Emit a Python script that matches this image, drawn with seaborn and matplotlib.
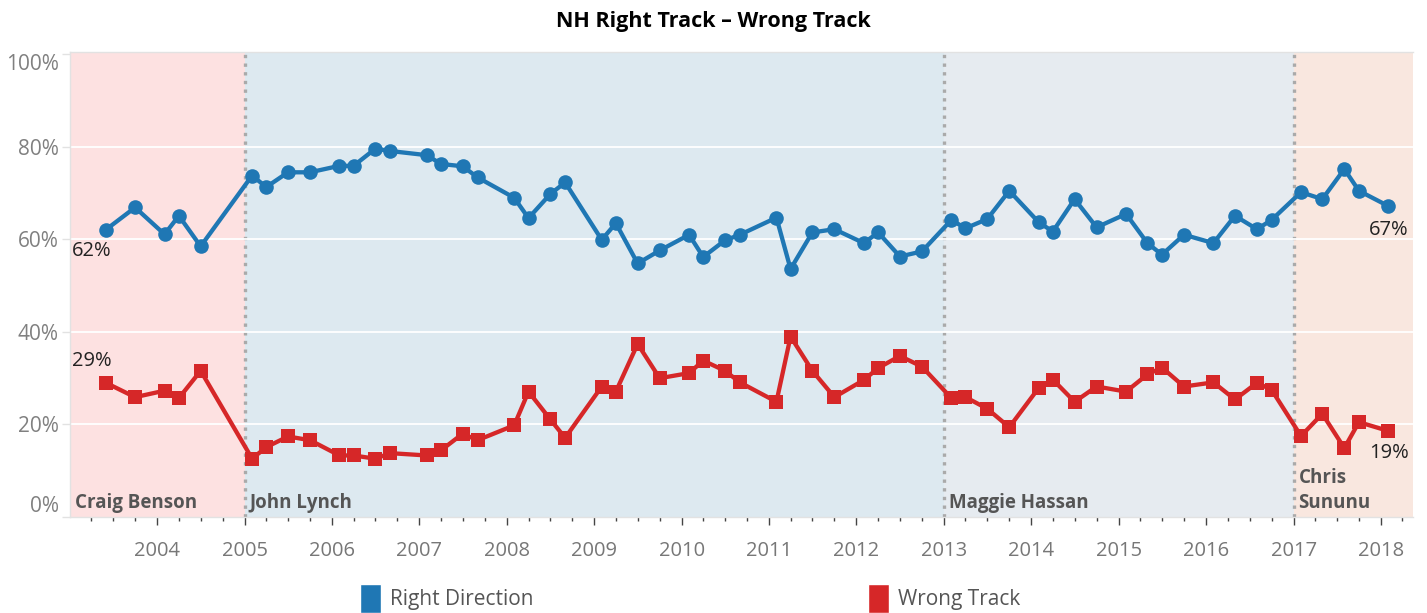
import pandas as pd
import numpy as np
import matplotlib
matplotlib.use('Agg')
import matplotlib.pyplot as plt
import matplotlib.dates as mdates
from matplotlib.patches import Patch
import seaborn as sns

# survey months
poll_dates = [
    '2003-06', '2003-10', '2004-02', '2004-04', '2004-07',
    '2005-02', '2005-04', '2005-07', '2005-10',
    '2006-02', '2006-04', '2006-07', '2006-09',
    '2007-02', '2007-04', '2007-07', '2007-09',
    '2008-02', '2008-04', '2008-07', '2008-09',
    '2009-02', '2009-04', '2009-07', '2009-10',
    '2010-02', '2010-04', '2010-07', '2010-09',
    '2011-02', '2011-04', '2011-07', '2011-10',
    '2012-02', '2012-04', '2012-07', '2012-10',
    '2013-02', '2013-04', '2013-07', '2013-10',
    '2014-02', '2014-04', '2014-07', '2014-10',
    '2015-02', '2015-05', '2015-07', '2015-10',
    '2016-02', '2016-05', '2016-08', '2016-10',
    '2017-02', '2017-05', '2017-08', '2017-10',
    '2018-02',
]

right_direction = [
    62.1, 66.9, 61.1, 65.1, 58.5,
    73.8, 71.3, 74.5, 74.5,
    75.9, 75.9, 79.6, 79.1,
    78.2, 76.3, 75.8, 73.4,
    69.0, 64.6, 69.8, 72.3,
    59.9, 63.5, 54.8, 57.6,
    61.0, 56.2, 59.8, 61.0,
    64.7, 53.6, 61.5, 62.2,
    59.2, 61.5, 56.3, 57.4,
    64.2, 62.4, 64.4, 70.5,
    63.7, 61.7, 68.7, 62.6,
    65.5, 59.2, 56.7, 61.0,
    59.2, 65.1, 62.2, 64.2,
    70.2, 68.7, 75.2, 70.5,
    67.2,
]

wrong_track = [
    29.0, 25.9, 27.3, 25.7, 31.6,
    12.6, 15.1, 17.4, 16.6,
    13.3, 13.3, 12.6, 13.8,
    13.3, 14.4, 18.0, 16.6,
    19.8, 27.1, 21.1, 17.1,
    28.2, 27.1, 37.4, 30.0,
    31.1, 33.8, 31.6, 29.1,
    24.9, 39.0, 31.6, 25.9,
    29.6, 32.2, 34.8, 32.5,
    25.7, 25.9, 23.4, 19.4,
    27.9, 29.7, 24.9, 28.2,
    27.1, 30.8, 32.3, 28.2,
    29.1, 25.4, 29.0, 27.5,
    17.5, 22.3, 14.9, 20.5,
    18.6,
]

governors = ['Craig Benson', 'John Lynch', 'Maggie Hassan', 'Chris\nSununu']
term_starts = ['2003-01-01', '2005-01-01', '2013-01-01', '2017-01-01']
term_colors = ['#fde1e1', '#dde9f0', '#e6ebf0', '#f9e7df']

series_names = ['Right Direction', 'Wrong Track']
series_colors = ['#1f77b4', '#d62728']


def build_frame():
    dates = pd.to_datetime(poll_dates)
    df = pd.DataFrame({'date': dates,
                       'Right Direction': right_direction,
                       'Wrong Track': wrong_track})
    return df.melt(id_vars='date', var_name='series', value_name='pct')


def main():
    sns.set_style('white')
    plt.rcParams['font.family'] = ['Open Sans', 'DejaVu Sans']

    long_df = build_frame()
    x_start = pd.Timestamp('2003-01-02')
    x_end = pd.Timestamp('2018-05-15')

    fig = plt.figure(figsize=(14.27, 6.13), dpi=100)
    ax = fig.add_axes([70 / 1427, 96 / 613, 1343 / 1427, 465 / 613])

    # governor bands + dotted term boundaries
    starts = [pd.Timestamp(s) for s in term_starts]
    ends = starts[1:] + [x_end]
    for i, (s, e) in enumerate(zip(starts, ends)):
        s = max(s, x_start)
        ax.axvspan(s, e, color=term_colors[i], lw=0, zorder=0)
        if i > 0:
            ax.axvline(s, color='#aaaaaa', ls=(0, (1, 1.6)), lw=2.4, zorder=1)
        ax.annotate(governors[i], (s, 0.8), xytext=(5, 0), textcoords='offset pixels',
                    fontsize=13.5, fontweight='bold', color='#555555',
                    ha='left', va='bottom', zorder=3, linespacing=1.35)

    for y in [20, 40, 60, 80]:
        ax.axhline(y, color='white', lw=1.3, zorder=1)

    sns.lineplot(data=long_df, x='date', y='pct', hue='series', style='series',
                 palette=dict(zip(series_names, series_colors)),
                 markers={'Right Direction': 'o', 'Wrong Track': 's'},
                 dashes=False, markersize=10.5, markeredgewidth=0,
                 linewidth=3.1, legend=False, ax=ax, zorder=4)

    # end labels
    first = pd.Timestamp(poll_dates[0])
    last = pd.Timestamp(poll_dates[-1])
    lab = dict(fontsize=14.5, color='#222222', ha='center', va='center',
               textcoords='offset pixels', zorder=5)
    ax.annotate(f'{right_direction[0]:.0f}%', (first, right_direction[0]), xytext=(-14, -21), **lab)
    ax.annotate(f'{wrong_track[0]:.0f}%', (first, wrong_track[0]), xytext=(-14, 22), **lab)
    ax.annotate(f'{right_direction[-1]:.0f}%', (last, right_direction[-1]), xytext=(0, -24), **lab)
    ax.annotate(f'{wrong_track[-1]:.0f}%', (last, wrong_track[-1]), xytext=(1, -22), **lab)

    ax.set_xlim(x_start, x_end)
    ax.set_ylim(0, 100.5)
    ax.set_yticks([0, 20, 40, 60, 80, 100])
    ax.set_yticklabels(['0%', '20%', '40%', '60%', '80%', '100%'])
    ytl = ax.get_yticklabels()
    ytl[0].set_va('bottom')
    ytl[-1].set_va('top')

    ax.xaxis.set_major_locator(mdates.YearLocator())
    ax.xaxis.set_major_formatter(mdates.DateFormatter('%Y'))
    ax.xaxis.set_minor_locator(mdates.MonthLocator(bymonth=[4, 7, 10]))
    ax.tick_params(axis='x', which='major', length=6, width=1, color='#444444',
                   pad=11, labelsize=14.5, labelcolor='#777777', bottom=True)
    ax.tick_params(axis='x', which='minor', length=3, width=1, color='#444444', bottom=True)
    ax.tick_params(axis='y', length=6, width=1, color='#e2e2e2', pad=2,
                   labelsize=15, labelcolor='#808080', left=True)

    ax.set_xlabel('')
    ax.set_ylabel('')
    for side in ['top', 'left', 'bottom', 'right']:
        ax.spines[side].set_color('#e2e2e2')
        ax.spines[side].set_linewidth(1)
    ax.spines['right'].set_visible(False)

    fig.text(0.5, 1 - 21 / 613, 'NH Right Track \u2013 Wrong Track', ha='center', va='center',
             fontsize=15.5, fontweight='bold', color='black')

    # legend, one entry per colour swatch
    for name, col, xpos in zip(series_names, series_colors, [360 / 1427, 868 / 1427]):
        fig.legend(handles=[Patch(facecolor=col, label=name)], loc='center left',
                   bbox_to_anchor=(xpos, 0.024), frameon=False, fontsize=15,
                   labelcolor='#555555', handlelength=1.0, handleheight=1.8,
                   handletextpad=0.45, borderpad=0, borderaxespad=0)

    fig.savefig('out.png', dpi=100)
    plt.close(fig)


if __name__ == '__main__':
    main()
